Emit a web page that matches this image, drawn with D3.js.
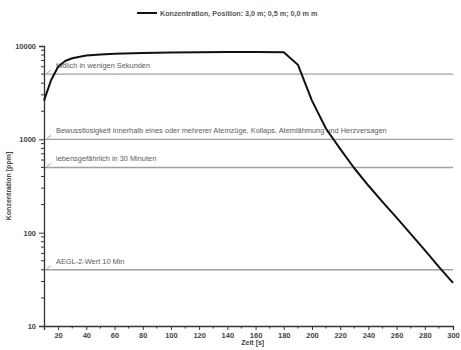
<!DOCTYPE html>
<html>
<head>
<meta charset="utf-8">
<script src="https://cdn.jsdelivr.net/npm/d3@7"></script>
<style>
  body { margin: 0; background: #fff; }
  svg { font-family: "Liberation Sans", Arial, sans-serif; }
</style>
</head>
<body>
<svg id="chart" width="461" height="350"></svg>
<script>
// Zeitachse [s] und Konzentration [ppm]
const zeit = [10, 15, 20, 25, 30, 40, 50, 60, 80, 100, 120, 140, 160, 180, 190, 200, 210, 220, 230, 240, 250, 260, 270, 280, 290, 300];
const konz = [2600, 4300, 6000, 6900, 7400, 7900, 8100, 8250, 8400, 8500, 8550, 8600, 8650, 8550, 6300, 2600, 1300, 790, 490, 320, 214, 145, 97, 65, 43, 29];

// Grenzwerte
const grenzWerte = [5000, 1000, 500, 40];
const grenzTexte = [
    "tödlich in wenigen Sekunden",
    "Bewusstlosigkeit innerhalb eines oder mehrerer Atemzüge, Kollaps, Atemlähmung und Herzversagen",
    "lebensgefährlich in 30 Minuten",
    "AEGL-2-Wert 10 Min"
];

const xTicks = [20, 40, 60, 80, 100, 120, 140, 160, 180, 200, 220, 240, 260, 280, 300];
const yTicks = [10, 100, 1000, 10000];
const legendText = "Konzentration, Position: 3,0 m; 0,5 m; 0,0 m m";

const svg = d3.select("#chart");
const margin = {left: 44, right: 8, top: 46, bottom: 24};
const W = 461, H = 350;

const x = d3.scaleLinear().domain([10, 300]).range([margin.left, W - margin.right]);
const y = d3.scaleLog().domain([10, 10000]).range([H - margin.bottom, margin.top]);

//Grenzwert-Linien
const grenz = svg.append("g");
grenz.selectAll("line")
    .data(grenzWerte)
    .join("line")
    .attr("x1", x(10))
    .attr("x2", x(300))
    .attr("y1", d => y(d))
    .attr("y2", d => y(d))
    .attr("stroke", "#a0a0a0")
    .attr("stroke-width", 1.4);

grenz.selectAll("path.mark")
    .data(grenzWerte)
    .join("path")
    .attr("class", "mark")
    .attr("d", d => `M${x(10) + 3},${y(d) - 1}L${x(10) + 7},${y(d) - 4}`)
    .attr("stroke", "#888")
    .attr("stroke-width", 0.8)
    .attr("fill", "none");

grenz.selectAll("text")
    .data(grenzWerte)
    .join("text")
    .attr("x", x(10) + 12)
    .attr("y", d => y(d) - 6)
    .attr("font-size", 7.4)
    .attr("fill", "#5a5a5a")
    .text((d, i) => grenzTexte[i]);

//Achsen
const yMinor = [];
[10, 100, 1000].forEach(b => { for (let k = 2; k <= 9; k++) yMinor.push(b * k); });

const yAxis = svg.append("g")
    .attr("transform", `translate(${margin.left},0)`)
    .call(d3.axisLeft(y).tickValues(yTicks).tickFormat(d3.format("d")).tickSize(5).tickPadding(3));
yAxis.append("g").selectAll("line")
    .data(yMinor)
    .join("line")
    .attr("x1", -3).attr("x2", 0)
    .attr("y1", d => y(d)).attr("y2", d => y(d))
    .attr("stroke", "#333");

const xMinor = d3.range(30, 300, 20);
const xAxis = svg.append("g")
    .attr("transform", `translate(0,${H - margin.bottom})`)
    .call(d3.axisBottom(x).tickValues(xTicks).tickSize(4).tickPadding(3));
xAxis.append("g").selectAll("line")
    .data(xMinor)
    .join("line")
    .attr("x1", d => x(d)).attr("x2", d => x(d))
    .attr("y1", 0).attr("y2", 2.5)
    .attr("stroke", "#333");

[yAxis, xAxis].forEach(a => {
    a.select(".domain").attr("stroke", "#333").attr("stroke-width", 1.3);
    a.selectAll(".tick line").attr("stroke", "#333");
    a.selectAll("text")
        .attr("font-size", 7.5)
        .attr("font-weight", "bold")
        .attr("fill", "#444")
        .attr("font-family", "Liberation Sans, Arial, sans-serif");
});

//Achsentitel
svg.append("text")
    .attr("transform", `translate(11,${(margin.top + H - margin.bottom) / 2}) rotate(-90)`)
    .attr("text-anchor", "middle")
    .attr("font-size", 7)
    .attr("font-weight", "bold")
    .attr("fill", "#444")
    .text("Konzentration [ppm]");

svg.append("text")
    .attr("x", x(158))
    .attr("y", 345)
    .attr("text-anchor", "middle")
    .attr("font-size", 7)
    .attr("font-weight", "bold")
    .attr("fill", "#444")
    .text("Zeit [s]");

//Kurve
const line = d3.line()
    .x((d, i) => x(zeit[i]))
    .y(d => y(d));

svg.append("path")
    .datum(konz)
    .attr("d", line)
    .attr("fill", "none")
    .attr("stroke", "#111")
    .attr("stroke-width", 2)
    .attr("stroke-linejoin", "round");

//Legende
const legend = svg.append("g").attr("transform", "translate(137,13)");
legend.append("line")
    .attr("x1", 0).attr("x2", 20)
    .attr("y1", 0).attr("y2", 0)
    .attr("stroke", "#111")
    .attr("stroke-width", 2);
legend.append("text")
    .attr("x", 23)
    .attr("y", 2.5)
    .attr("font-size", 7.2)
    .attr("font-weight", "bold")
    .attr("fill", "#555")
    .text(legendText);
</script>
</body>
</html>
